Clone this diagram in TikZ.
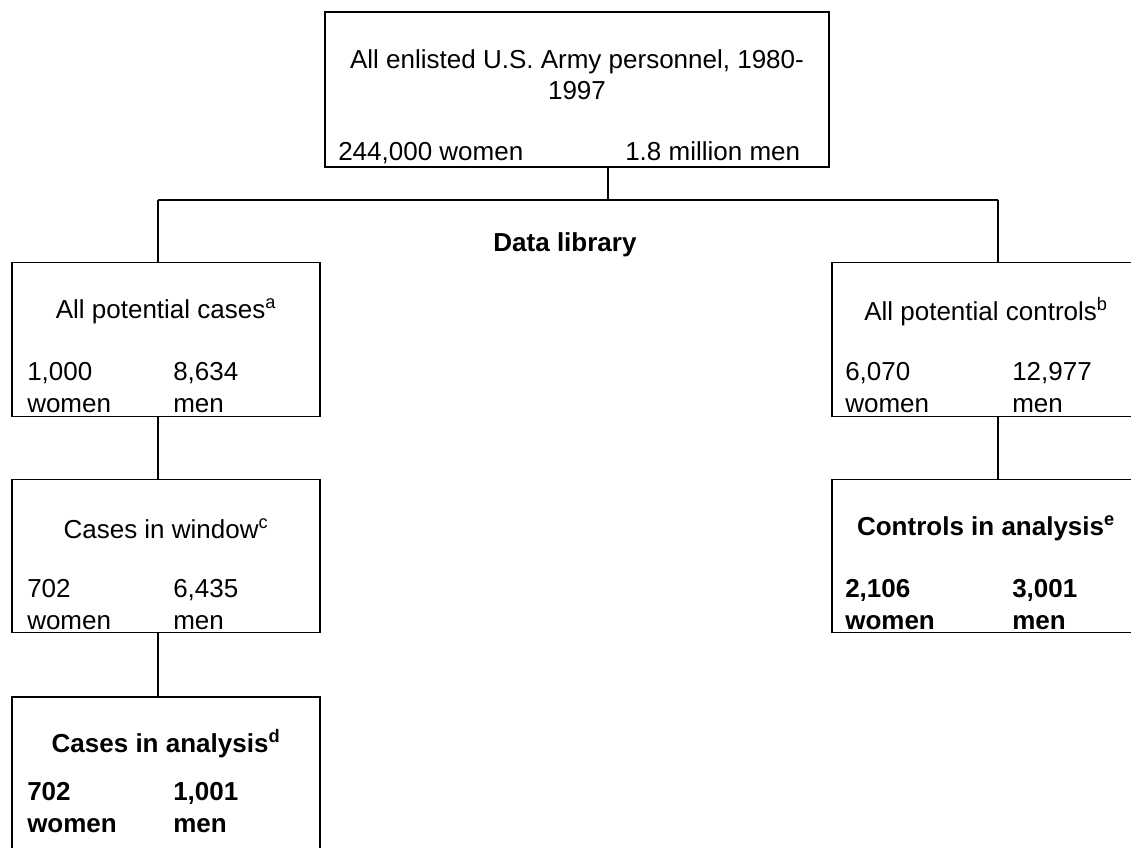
\documentclass[tikz,border=0pt]{standalone}
\usepackage{fontspec}
\setmainfont{Liberation Sans}
\tikzset{
  box/.style={draw, line width=1.2pt, inner sep=0pt, minimum width=231pt, minimum height=115.5pt},
  title/.style={inner sep=0pt, font=\fontsize{19.5}{23}\selectfont},
  count/.style={inner sep=0pt, align=left, anchor=west, font=\fontsize{19.5}{24}\selectfont},
  link/.style={line width=1.2pt},
}

\begin{document}
\begin{tikzpicture}[x=0.75pt, y=-0.75pt]
	%%%%% START %%%%%
	\useasboundingbox (0,0) rectangle (1131,848);
	
	\node[box, minimum width=378pt, minimum height=116.25pt] (army) at (577,89.5) {};
	\node[title, align=center] (armyt) at (577,75) {All enlisted U.S. Army personnel, 1980-\\1997};
	\node[count, anchor=base west] (armyw) at (338,161) {244,000 women};
	\node[count, anchor=base west] (armym) at (625,161) {1.8 million men};
	
	\node[title, font=\fontsize{19.5}{23}\selectfont\bfseries] (lib) at (565,245) {Data library};
	
	% cases
	\node[box] (pcase) at (166,339.5) {};
	\node[title] (pcaset) at (166,311.5) {All potential cases\textsuperscript{a}};
	\node[count] (pcasew) at (27,387.5) {1,000\\women};
	\node[count] (pcasem) at (173,387.5) {8,634\\men};
	
	\node[box, minimum height=114.75pt] (wcase) at (166,556) {};
	\node[title] (wcaset) at (166,528.5) {Cases in window\textsuperscript{c}};
	\node[count] (wcasew) at (27,604.5) {702\\women};
	\node[count] (wcasem) at (173,604.5) {6,435\\men};
	
	\node[box, minimum height=116.25pt] (acase) at (166,774.5) {};
	\node[title, font=\fontsize{19.5}{23}\selectfont\bfseries] (acaset) at (166,744) {Cases in analysis\textsuperscript{d}};
	\node[count, font=\fontsize{19.5}{24}\selectfont\bfseries] (acasew) at (27,808) {702\\women};
	\node[count, font=\fontsize{19.5}{24}\selectfont\bfseries] (acasem) at (173,808) {1,001\\men};
	
	% controls
	\node[box] (pctrl) at (986,339.5) {};
	\node[title] (pctrlt) at (986,311.5) {All potential controls\textsuperscript{b}};
	\node[count] (pctrlw) at (845,387.5) {6,070\\women};
	\node[count] (pctrlm) at (1012,387.5) {12,977\\men};
	
	\node[box, minimum height=114.75pt] (actrl) at (986,556) {};
	\node[title, font=\fontsize{19.5}{23}\selectfont\bfseries] (actrlt) at (986,528.5) {Controls in analysis\textsuperscript{e}};
	\node[count, font=\fontsize{19.5}{24}\selectfont\bfseries] (actrlw) at (845,604.5) {2,106\\women};
	\node[count, font=\fontsize{19.5}{24}\selectfont\bfseries] (actrlm) at (1012,604.5) {3,001\\men};
	
	% tree lines
	\coordinate (split) at (608,200);
	\coordinate (lft) at (158,200);
	\coordinate (rgt) at (998,200);
	\draw[link] (army.south -| split) -- (split);
	\draw[link] (lft) -- (rgt);
	\draw[link] (lft) -- (lft |- pcase.north);
	\draw[link] (rgt) -- (rgt |- pctrl.north);
	\draw[link] (pcase.south -| lft) -- (wcase.north -| lft);
	\draw[link] (wcase.south -| lft) -- (acase.north -| lft);
	\draw[link] (pctrl.south -| rgt) -- (actrl.north -| rgt);
	
	%%%%% END %%%%%
\end{tikzpicture}
\end{document}
